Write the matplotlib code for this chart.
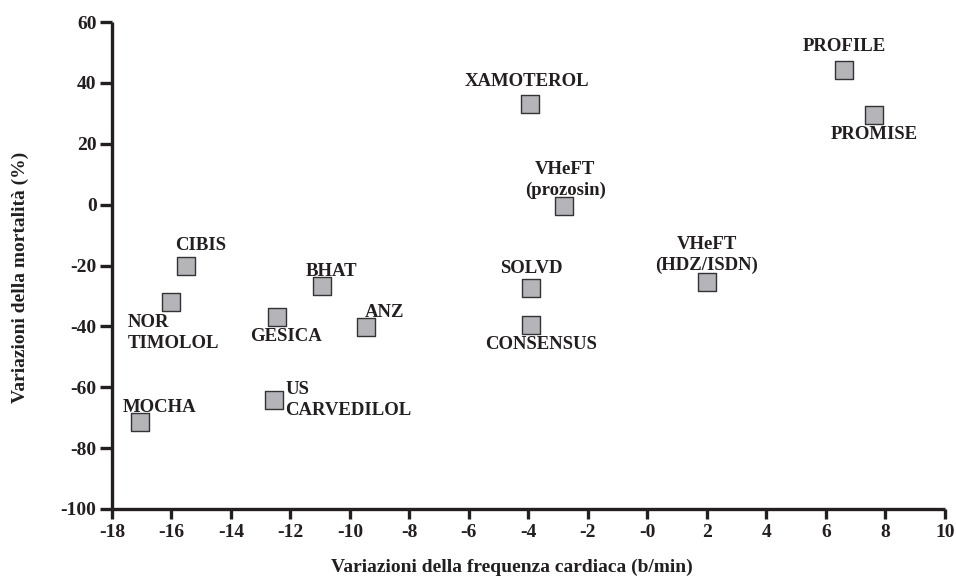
import matplotlib
matplotlib.use("Agg")
import matplotlib.pyplot as plt

# Dati
studi = ["PROFILE", "PROMISE", "XAMOTEROL", "VHeFT\n(prozosin)", "VHeFT\n(HDZ/ISDN)",
         "SOLVD", "CONSENSUS", "CIBIS", "NOR\nTIMOLOL", "MOCHA", "GESICA",
         "BHAT", "ANZ", "US\nCARVEDILOL"]
delta_fc = [6.6, 7.6, -3.95, -2.8, 2.0, -3.9, -3.9, -15.5, -16.0, -17.05, -12.45,
            -10.95, -9.45, -12.55]
delta_mort = [44.2, 29.6, 33.0, -0.4, -25.3, -27.5, -39.5, -20.2, -32.1, -71.5, -36.9,
              -26.7, -40.2, -64.2]

x_ticks = [-18, -16, -14, -12, -10, -8, -6, -4, -2, 0, 2, 4, 6, 8, 10]
x_tick_labels = ["-18", "-16", "-14", "-12", "-10", "-8", "-6", "-4", "-2", "-0",
                 "2", "4", "6", "8", "10"]
y_ticks = [-100, -80, -60, -40, -20, 0, 20, 40, 60]

# posizione delle etichette (offset in pixel, allineamento)
label_pos = {
    "PROFILE": ((0, 24), "center", "center"),
    "PROMISE": ((1, -20), "center", "center"),
    "XAMOTEROL": ((-3, 23), "center", "center"),
    "VHeFT\n(prozosin)": ((1, 26), "center", "center"),
    "VHeFT\n(HDZ/ISDN)": ((0, 27), "center", "center"),
    "SOLVD": ((0, 20), "center", "center"),
    "CONSENSUS": ((10, -20), "center", "center"),
    "CIBIS": ((14, 21), "center", "center"),
    "NOR\nTIMOLOL": ((-44, -12), "left", "top"),
    "MOCHA": ((19, 15), "center", "center"),
    "GESICA": ((9, -20), "center", "center"),
    "BHAT": ((10, 14), "center", "center"),
    "ANZ": ((18, 14), "center", "center"),
    "US\nCARVEDILOL": ((11, 0), "left", "center"),
}

ink = "#231f20"
plt.rcParams["font.family"] = ["Liberation Serif", "DejaVu Serif"]
plt.rcParams["font.weight"] = "bold"
plt.rcParams["axes.unicode_minus"] = False

fig = plt.figure(figsize=(9.56, 5.81), dpi=100)
ax = fig.add_axes([0.117, 0.124, 0.8715, 0.838])

ax.scatter(delta_fc, delta_mort, marker="s", s=150, facecolor="#b4b4b9",
           edgecolor="#333333", linewidth=1.0, zorder=3)

for name, x, y in zip(studi, delta_fc, delta_mort):
    (dx, dy), ha, va = label_pos[name]
    ax.annotate(name, (x, y), xytext=(dx, dy), textcoords="offset pixels",
                ha=ha, va=va, fontsize=13.5, fontweight="bold", color=ink,
                linespacing=1.3, zorder=4)

ax.set_xlim(-18, 10)
ax.set_ylim(-100, 60)
ax.set_xticks(x_ticks)
ax.set_xticklabels(x_tick_labels)
ax.set_yticks(y_ticks)

for s in ["top", "right"]:
    ax.spines[s].set_visible(False)
for s in ["left", "bottom"]:
    ax.spines[s].set_linewidth(2.4)
    ax.spines[s].set_color(ink)
    ax.spines[s].set_capstyle("butt")

ax.tick_params(axis="y", direction="out", length=9, width=2.4, color=ink,
               labelsize=14, labelcolor=ink, pad=2)
ax.tick_params(axis="x", direction="out", length=7, width=2.4, color=ink,
               labelsize=14, labelcolor=ink, pad=4)
for lab in ax.get_xticklabels() + ax.get_yticklabels():
    lab.set_fontweight("bold")

ax.set_xlabel("Variazioni della frequenza cardiaca (b/min)", fontsize=14,
              fontweight="bold", color=ink)
ax.set_ylabel("Variazioni della mortalità (%)", fontsize=14,
              fontweight="bold", color=ink)
ax.xaxis.set_label_coords(0.48, -0.102)
ax.yaxis.set_label_coords(-0.1, 0.476)

fig.savefig("out.png", dpi=100)
